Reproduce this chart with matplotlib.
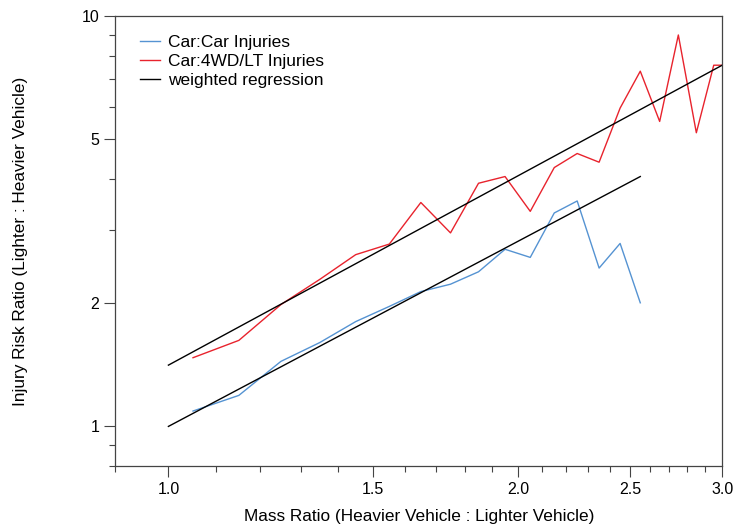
import numpy as np
import matplotlib
matplotlib.use("Agg")
import matplotlib.pyplot as plt
from matplotlib.ticker import FixedLocator, FixedFormatter, NullFormatter

plt.rcParams['font.family'] = ['Liberation Sans', 'DejaVu Sans']

# Data
mass_ratio = [1.05, 1.15, 1.25, 1.35, 1.45, 1.55, 1.65, 1.75, 1.85, 1.95,
              2.05, 2.15, 2.25, 2.35, 2.45, 2.55, 2.65, 2.75, 2.85, 2.95, 3.05]
car_car = [1.09, 1.19, 1.44, 1.60, 1.80, 1.96, 2.13, 2.22, 2.38, 2.70,
           2.58, 3.31, 3.54, 2.43, 2.79, 2.00]
car_4wd = [1.47, 1.62, 1.98, 2.28, 2.62, 2.78, 3.51, 2.96, 3.91, 4.06,
           3.34, 4.27, 4.62, 4.40, 5.96, 7.33, 5.53, 8.98, 5.19, 7.58, 7.58]
reg_car_x = [1.0, 2.55]
reg_car_y = [1.0, 4.06]
reg_4wd_x = [1.0, 3.0]
reg_4wd_y = [1.41, 7.58]

x_ticks = [1.0, 1.5, 2.0, 2.5, 3.0]
x_ticklabels = ["1.0", "1.5", "2.0", "2.5", "3.0"]
y_ticks = [1, 2, 5, 10]
y_ticklabels = ["1", "2", "5", "10"]

W, H = 736, 527
L, R, T, B = 115.3, 722.2, 15.8, 466.2
fig = plt.figure(figsize=(W / 100, H / 100), dpi=100)
ax = fig.add_axes([L / W, 1 - B / H, (R - L) / W, (B - T) / H])

blue = "#5593d2"
red = "#e8232d"
ax.plot(mass_ratio[:len(car_car)], car_car, color=blue, lw=1.0, label="Car:Car Injuries")
ax.plot(mass_ratio[:len(car_4wd)], car_4wd, color=red, lw=1.0, label="Car:4WD/LT Injuries")
ax.plot(reg_car_x, reg_car_y, color="black", lw=1.0, label="weighted regression")
ax.plot(reg_4wd_x, reg_4wd_y, color="black", lw=1.0)

ax.set_xscale("log")
ax.set_yscale("log")
ax.set_xlim(0.9, 3.0)
ax.set_ylim(0.8, 10)

ax.xaxis.set_major_locator(FixedLocator(x_ticks))
ax.xaxis.set_major_formatter(FixedFormatter(x_ticklabels))
ax.xaxis.set_minor_locator(FixedLocator(np.round(np.arange(0.9, 3.01, 0.1), 2)))
ax.xaxis.set_minor_formatter(NullFormatter())
ax.yaxis.set_major_locator(FixedLocator(y_ticks))
ax.yaxis.set_major_formatter(FixedFormatter(y_ticklabels))
ax.yaxis.set_minor_locator(FixedLocator([0.8, 0.9, 3, 4, 6, 7, 8, 9]))
ax.yaxis.set_minor_formatter(NullFormatter())

spine_col = "#444444"
for s in ax.spines.values():
    s.set_color(spine_col)
    s.set_linewidth(0.9)
ax.tick_params(which="major", direction="out", length=8, width=0.8, color=spine_col,
               labelsize=11.5, top=False, right=False)
ax.tick_params(axis="x", which="major", pad=3.5)
ax.tick_params(axis="y", which="major", pad=3.5)
ax.tick_params(which="minor", direction="out", length=4, width=0.8, color=spine_col,
               top=False, right=False)

ax.set_xlabel("Mass Ratio (Heavier Vehicle : Lighter Vehicle)", fontsize=12.4, labelpad=8.5)
ax.set_ylabel("Injury Risk Ratio (Lighter : Heavier Vehicle)", fontsize=12.4)
ax.yaxis.set_label_coords((28.5 - L) / (R - L), 0.5)

leg = ax.legend(loc="upper left", frameon=False, fontsize=12.5, handlelength=1.17,
                handletextpad=0.45, labelspacing=0.22, borderaxespad=0, borderpad=0,
                bbox_to_anchor=((140 - L) / (R - L), 1 - (34.5 - T) / (B - T)))

fig.savefig("out.png", dpi=100)
